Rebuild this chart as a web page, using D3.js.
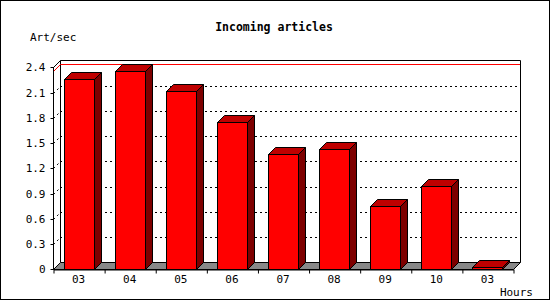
<!DOCTYPE html>
<html><head><meta charset="utf-8">
<script src="https://cdn.jsdelivr.net/npm/d3@7"></script>
<style>body{margin:0;background:#fff}svg{display:block}</style>
</head><body>
<script>
const categories = ["03","04","05","06","07","08","09","10","03"];
const values = [2.26, 2.36, 2.12, 1.75, 1.37, 1.43, 0.75, 0.99, 0.03];
const yTicks = [0, 0.3, 0.6, 0.9, 1.2, 1.5, 1.8, 2.1, 2.4];
const yTickLabels = ["0","0.3","0.6","0.9","1.2","1.5","1.8","2.1","2.4"];
const title = "Incoming articles";
const yTitle = "Art/sec";
const xTitle = "Hours";

(function(){
const W = 550, H = 300;
const DX = 7, DY = 7;
const pLeft = 53, pRight = 513, pBottom = 269.3, pTop = 67.3;
const font = "'DejaVu Sans Mono', 'Liberation Mono', monospace";

const svg = d3.select("body").append("svg").attr("width", W).attr("height", H);
svg.append("rect").attr("x",0.5).attr("y",0.5).attr("width",W-1).attr("height",H-1)
  .attr("fill","#fff").attr("stroke","#000");

const y = d3.scaleLinear().domain([0, 2.4]).range([pBottom, pTop]);
const idx = categories.map((d,i)=>i);
const x = d3.scaleBand().domain(idx).range([pLeft, pRight]).paddingInner(0).paddingOuter(0);
const xb = d3.scaleLinear().domain([0, categories.length]).range([pLeft, pRight]);

const g = svg.append("g");
yTicks.slice(1, -1).forEach(v=>{
  const yy = Math.round(y(v)-DY)+0.5;
  g.append("line").attr("x1", pLeft+DX).attr("x2", pRight+DX).attr("y1", yy).attr("y2", yy)
    .attr("stroke","#000").attr("stroke-dasharray","2,3");
  g.append("line").attr("x1", pLeft+0.5).attr("y1", Math.round(y(v))+0.5)
    .attr("x2", pLeft+DX+0.5).attr("y2", yy)
    .attr("stroke","#000").attr("stroke-dasharray","2,3");
});
const wx0 = pLeft+DX+0.5, wx1 = pRight+DX+0.5, wy0 = Math.round(y(2.4)-DY)+0.5, wy1 = Math.round(y(0)-DY)+0.5;
g.append("path").attr("d", `M${wx0},${wy1}V${wy0}H${wx1}V${wy1}`).attr("fill","none").attr("stroke","#000");
g.append("line").attr("x1", pLeft+0.5).attr("y1", Math.round(y(2.4))+0.5).attr("x2", wx0).attr("y2", wy0).attr("stroke","#000");
const maxV = d3.max(values);
const my = Math.round(y(maxV)-DY)+0.5;
g.append("path").attr("d", `M${pLeft+0.5},${Math.round(y(maxV))+0.5}L${wx0},${my}H${wx1-0.5}`)
  .attr("fill","none").attr("stroke","#f00");
const fy = Math.round(y(0))+0.5;
g.append("path").attr("d", `M${pLeft+0.5},${fy}L${wx0},${wy1}H${wx1}L${pRight+0.5},${fy}Z`)
  .attr("fill","#888").attr("stroke","#000");

const bw = 30;
const bars = g.selectAll("g.bar").data(values).join("g").attr("class","bar");
bars.each(function(v,i){
  const b = d3.select(this);
  const x0 = Math.round(x(i) + x.bandwidth()/2 - bw/2) + 0.5;
  const x1 = x0 + bw;
  const y0 = Math.round(y(v)) + 0.5;
  const yb = Math.round(y(0)) + 0.5;
  b.append("path").attr("d", `M${x0},${y0}L${x0+DX},${y0-DY}H${x1+DX}L${x1},${y0}Z`)
    .attr("fill","#bf0000").attr("stroke","#000");
  b.append("path").attr("d", `M${x1},${y0}L${x1+DX},${y0-DY}V${yb-DY}L${x1},${yb}Z`)
    .attr("fill","#7d0000").attr("stroke","#000");
  b.append("rect").attr("x", x0).attr("y", y0).attr("width", bw).attr("height", yb-y0)
    .attr("fill","#ff0000").attr("stroke","#000");
});

const ya = svg.append("g").attr("transform", `translate(${pLeft+0.5},0)`)
  .call(d3.axisLeft(y).tickValues(yTicks).tickFormat((d,i)=>yTickLabels[i]).tickSizeInner(3).tickSizeOuter(0).tickPadding(5));
ya.selectAll("text").attr("font-family", font).attr("font-size", 11).attr("fill","#000");
ya.selectAll("line,path").attr("stroke","#000");
ya.select(".domain").attr("d", `M0,${Math.round(y(2.4))}V${Math.round(y(0))+0.5}`);
ya.selectAll(".tick").attr("transform", d=>`translate(0,${Math.round(y(d))+0.5})`);

const xa = svg.append("g").attr("transform", `translate(0,${Math.round(y(0))+0.5})`)
  .call(d3.axisBottom(x).tickFormat(i=>categories[i]).tickSize(0).tickPadding(6));
xa.select(".domain").remove();
xa.selectAll("text").attr("font-family", font).attr("font-size", 11).attr("fill","#000");
const xt = svg.append("g").attr("transform", `translate(0.5,${Math.round(y(0))+0.5})`)
  .call(d3.axisBottom(xb).tickValues(d3.range(categories.length+1)).tickFormat("").tickSizeInner(4).tickSizeOuter(0));
xt.selectAll("line,path").attr("stroke","#000");

svg.append("text").attr("x", 274).attr("y", 31).attr("text-anchor","middle")
  .attr("font-family", font).attr("font-size", 11.5).attr("font-weight","bold").text(title);
svg.append("text").attr("x", 30).attr("y", 41)
  .attr("font-family", font).attr("font-size", 11).text(yTitle);
svg.append("text").attr("x", 533).attr("y", 296).attr("text-anchor","end")
  .attr("font-family", font).attr("font-size", 11).text(xTitle);
})();
</script>
</body></html>
